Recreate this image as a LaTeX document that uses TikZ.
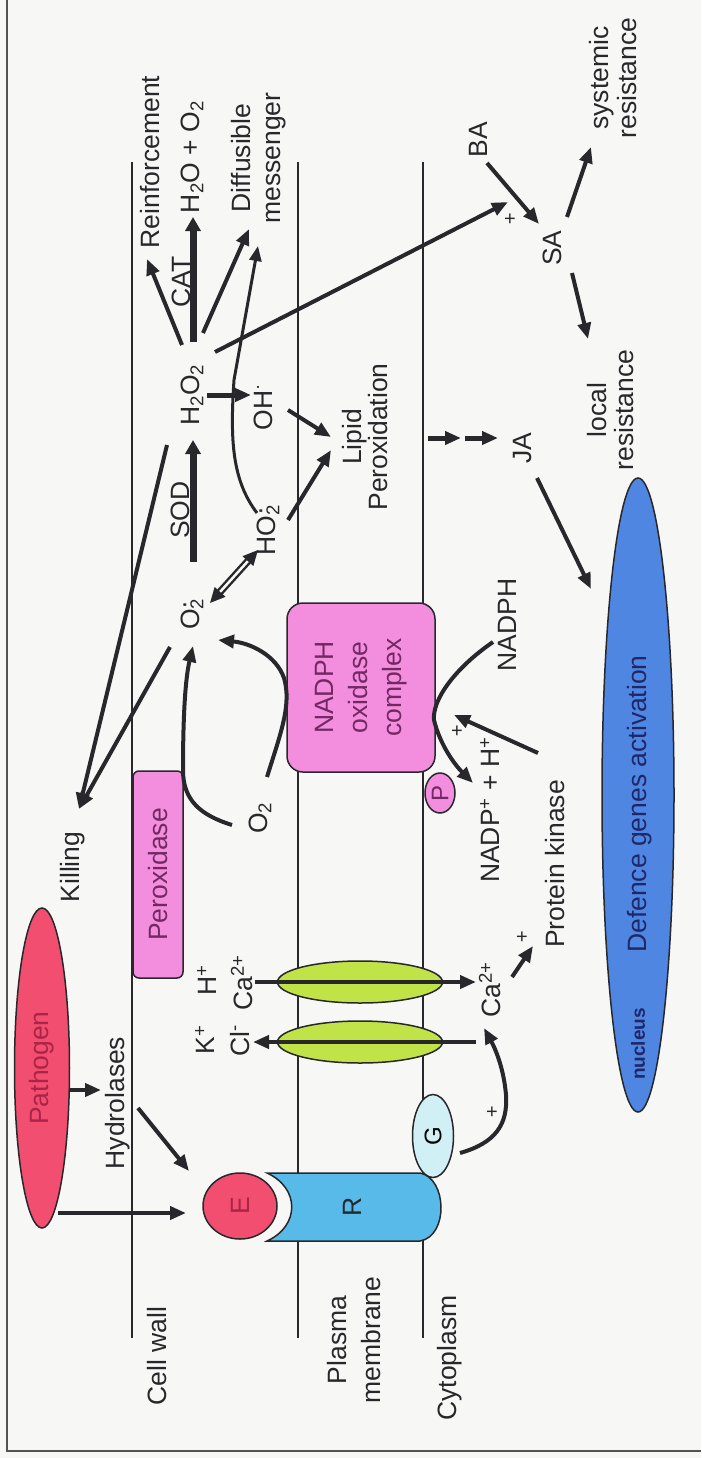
\documentclass[tikz,border=0pt]{standalone}
\usepackage{fontspec}
\setmainfont{Liberation Sans}
\usetikzlibrary{shapes.geometric,arrows.meta}

\definecolor{bg}{RGB}{247,247,245}
\definecolor{ink}{RGB}{40,40,44}
\definecolor{pathred}{RGB}{242,78,112}
\definecolor{pathtxt}{RGB}{170,36,72}
\definecolor{pinkbox}{RGB}{243,142,222}
\definecolor{pinktxt}{RGB}{115,40,100}
\definecolor{recblue}{RGB}{88,186,232}
\definecolor{gpale}{RGB}{208,240,246}
\definecolor{chgreen}{RGB}{192,228,72}
\definecolor{nucblue}{RGB}{78,134,226}
\definecolor{nuctxt}{RGB}{30,40,105}

\newcommand{\fsz}[2]{\fontsize{#1}{#2}\selectfont}
% radical dot over a subscript 2
\newcommand{\rad}{\rlap{\raisebox{0.25em}{·}}\textsubscript{2}}

\begin{document}
\begin{tikzpicture}[x=1pt,y=-1pt,
  txt/.style={rotate=90,inner sep=0pt,align=center,text=ink,font=\fsz{26.5}{28}},
  plus/.style={inner sep=0pt,text=ink,font=\fsz{20}{20}},
  memline/.style={draw=ink,line width=2pt},
  arr/.style={draw=ink,line width=4pt,-{Triangle[length=16pt,width=13pt]}},
  thinarr/.style={draw=ink,line width=3pt,-{Triangle[length=15pt,width=12pt]}},
  fatarr/.style={draw=ink,line width=7pt,-{Triangle[length=14pt,width=15pt]}},
  blob/.style={ellipse,draw=ink,line width=1.5pt,inner sep=0pt},
  pbox/.style={rectangle,draw=ink,line width=1.5pt,fill=pinkbox,text=pinktxt,
    inner sep=0pt,align=center,font=\fsz{26.5}{34}},
]
\fill[bg] (0,0) rectangle (701,1458);
\useasboundingbox (0,0) rectangle (701,1458);

% outer frame
\draw[draw=ink!80,line width=2pt] (7,0) -- (7,1451) -- (701,1451);

% cell wall and plasma membrane
\draw[memline] (132,162) -- (132,1338);
\draw[memline] (298,162) -- (298,1338);
\draw[memline] (423,162) -- (423,1338);

% region labels
\node[txt] (cellwall) at (157,1356) {Cell wall};
\node[txt,font=\fsz{26.5}{34}] (plasma) at (354,1340) {Plasma\\membrane};
\node[txt] (cyto) at (450,1358) {Cytoplasm};

% pathogen
\node[blob,rotate=90,fill=pathred,text=pathtxt,font=\fsz{26.5}{28},
  minimum width=320pt,minimum height=55pt] (pathogen) at (42,1068) {Pathogen};
\node[txt] (hydro) at (118,1103) {Hydrolases};

% receptor R with elicitor E and G protein
\draw[draw=ink,line width=1.5pt,fill=recblue]
  (267,1173) -- (420,1173) .. controls (447,1178) and (449,1236) .. (420,1241)
  -- (267,1241) .. controls (300,1226) and (300,1188) .. cycle;
\node[txt,text=ink] (R) at (352,1207) {R};
\node[blob,rotate=90,fill=pathred,text=pathtxt,font=\fsz{26.5}{28},
  minimum width=66pt,minimum height=74pt] (E) at (240,1206) {E};
\node[blob,rotate=90,fill=gpale,font=\fsz{24}{26},
  minimum width=83pt,minimum height=41pt] (G) at (433,1136) {G};

% ion channels
\node[blob,fill=chgreen,minimum width=165pt,minimum height=42pt] (chCa) at (360,982) {};
\node[blob,fill=chgreen,minimum width=165pt,minimum height=42pt] (chCl) at (360,1042) {};
\node[txt] (Hp) at (207,980) {H\textsuperscript{+}};
\node[txt] (CaL) at (242,983) {Ca\textsuperscript{2+}};
\node[txt] (Kp) at (205,1040) {K\textsuperscript{+}};
\node[txt] (Clm) at (240,1041) {Cl\textsuperscript{-}};
\node[txt] (CaR) at (490,990) {Ca\textsuperscript{2+}};
\node[txt] (pk) at (555,864) {Protein kinase};

% peroxidase and NADPH oxidase
\node[pbox,rotate=90,rounded corners=6pt,minimum width=207pt,minimum height=50pt]
  (perox) at (158,874.5) {Peroxidase};
\node[pbox,rotate=90,rounded corners=16pt,minimum width=169pt,minimum height=148pt]
  (nox) at (361,687.5) {NADPH\\oxidase\\complex};
\node[blob,rotate=90,fill=pinkbox,text=pinktxt,font=\fsz{24}{26},
  minimum width=40pt,minimum height=30pt] (P) at (440,793) {P};
\node[txt] (nadph) at (507,625) {NADPH};
\node[txt] (nadp) at (490,810) {NADP\textsuperscript{+} + H\textsuperscript{+}};

% reactive oxygen species
\node[txt] (killing) at (73,867) {Killing};
\node[txt] (O2) at (260,818) {O\textsubscript{2}};
\node[txt] (O2r) at (192,614) {O\rad};
\node[txt] (HO2) at (268,530) {HO\rad};
\node[txt] (SOD) at (180,510) {SOD};
\node[txt] (H2O2) at (192,395) {H\textsubscript{2}O\textsubscript{2}};
\node[txt] (OH) at (263,407) {OH\textsuperscript{·}};
\node[txt,font=\fsz{26.5}{26}] (lipid) at (365,437) {Lipid\\Peroxidation};
\node[txt] (JA) at (523,448) {JA};
\node[txt,font=\fsz{26.5}{27}] (local) at (611,410) {local\\resistance};
\node[txt] (reinf) at (150,162) {Reinforcement};
\node[txt] (CAT) at (181,282) {CAT};
\node[txt] (water) at (192,157) {H\textsubscript{2}O + O\textsubscript{2}};
\node[txt,font=\fsz{26.5}{30}] (diff) at (259,158) {Diffusible\\messenger};
\node[txt] (BA) at (478,140) {BA};
\node[txt] (SA) at (552,248) {SA};
\node[txt,font=\fsz{26.5}{28}] (syst) at (613,78) {systemic\\resistance};

% nucleus
\node[blob,rotate=90,fill=nucblue,minimum width=634pt,minimum height=72pt] (nucleus) at (638,795) {};
\node[txt,text=nuctxt] (defence) at (640,804) {Defence genes activation};
\node[txt,text=nuctxt,font=\fsz{19}{20}\bfseries] (nuclab) at (638,1044) {nucleus};

% plus signs
\node[plus] (p1) at (510,220) {+};
\node[plus] (p2) at (457,732) {+};
\node[plus] (p3) at (522,938) {+};
\node[plus] (p4) at (492,1113) {+};

% connector ports
\coordinate (pathE1) at (58,1213);   \coordinate (pathE2) at (186,1213);
\coordinate (pathH1) at (70,1090);   \coordinate (pathH2) at (101,1090);
\coordinate (hydE1) at (138,1108);   \coordinate (hydE2) at (189,1171);
\coordinate (gOut) at (460,1153);    \coordinate (caIn) at (484,1028);
\coordinate (caA1) at (255,982);     \coordinate (caA2) at (476,982);
\coordinate (clA1) at (476,1042);    \coordinate (clA2) at (253,1042);
\coordinate (caPk1) at (512,977);    \coordinate (caPk2) at (533,946);
\coordinate (pkN1) at (538,753);     \coordinate (pkN2) at (454,715);
\coordinate (nadIn) at (493,642);    \coordinate (nadOut) at (473,783);
\coordinate (o2a) at (232,825);      \coordinate (o2rIn) at (193,646);
\coordinate (o2b) at (267,777);      \coordinate (o2rIn2) at (218,640);
\coordinate (o2rK) at (170,647);     \coordinate (h2o2K) at (167,445);
\coordinate (killIn) at (79,809);
\coordinate (dis1) at (210,603);     \coordinate (dis2) at (258,550);
\coordinate (sod1) at (193,562);     \coordinate (sod2) at (193,440);
\coordinate (hoh1) at (207,395);     \coordinate (hoh2) at (251,395);
\coordinate (ho2a) at (257,513);     \coordinate (diffIn2) at (258,246);
\coordinate (ho2L) at (288,520);     \coordinate (lipIn1) at (331,450);
\coordinate (ohL) at (288,410);      \coordinate (lipIn2) at (331,437);
\coordinate (hR1) at (182,345);      \coordinate (hR2) at (147,259);
\coordinate (cat1) at (193,342);     \coordinate (cat2) at (193,217);
\coordinate (hD1) at (203,333);      \coordinate (hD2) at (249,229);
\coordinate (hS1) at (215,352);      \coordinate (hS2) at (508,202);
\coordinate (baS1) at (487,163);     \coordinate (baS2) at (539,224);
\coordinate (saS1) at (567,217);     \coordinate (saS2) at (591,147);
\coordinate (saL1) at (572,273);     \coordinate (saL2) at (588,339);
\coordinate (lj1) at (428,438);      \coordinate (lj2) at (461,438);
\coordinate (lj3) at (465,438);      \coordinate (lj4) at (498,438);
\coordinate (jaD1) at (537,478);     \coordinate (jaD2) at (591,589);

% signalling at the membrane
\draw[arr] (pathE1) -- (pathE2);
\draw[arr] (pathH1) -- (pathH2);
\draw[arr] (hydE1) -- (hydE2);
\draw[arr] (gOut) .. controls (495,1143) and (508,1125) .. (506,1095)
  .. controls (504,1070) and (496,1050) .. (caIn);
\draw[arr] (caA1) -- (caA2);
\draw[arr] (clA1) -- (clA2);
\draw[arr] (caPk1) -- (caPk2);
\draw[arr] (pkN1) -- (pkN2);
\draw[arr] (nadIn) .. controls (455,668) and (432,700) .. (434,720)
  .. controls (440,745) and (455,765) .. (nadOut);

% oxidative burst
\draw[arr] (o2a) .. controls (200,815) and (183,800) .. (183,770)
  .. controls (183,720) and (185,680) .. (o2rIn);
\draw[arr] (o2b) .. controls (280,735) and (292,705) .. (284,678)
  .. controls (276,655) and (250,643) .. (o2rIn2);
\draw[arr] (o2rK) -- (killIn);
\draw[arr] (h2o2K) -- (killIn);
\draw[draw=ink,line width=2.4pt,double=bg,double distance=2.5pt,
  {Triangle[length=15pt,width=14pt]}-{Triangle[length=15pt,width=14pt]}] (dis1) -- (dis2);
\draw[fatarr] (sod1) -- (sod2);
\draw[arr,line width=5pt] (hoh1) -- (hoh2);
\draw[thinarr] (ho2a) .. controls (232,480) and (230,440) .. (234,380) -- (diffIn2);
\draw[arr] (ho2L) -- (lipIn1);
\draw[arr] (ohL) -- (lipIn2);
\draw[arr] (hR1) -- (hR2);
\draw[fatarr] (cat1) -- (cat2);
\draw[arr] (hD1) -- (hD2);
\draw[arr] (hS1) -- (hS2);

% salicylic and jasmonic acid pathways
\draw[arr] (baS1) -- (baS2);
\draw[arr] (saS1) -- (saS2);
\draw[arr] (saL1) -- (saL2);
\draw[arr,line width=5pt] (lj1) -- (lj2);
\draw[arr,line width=5pt] (lj3) -- (lj4);
\draw[arr] (jaD1) -- (jaD2);
\end{tikzpicture}
\end{document}
